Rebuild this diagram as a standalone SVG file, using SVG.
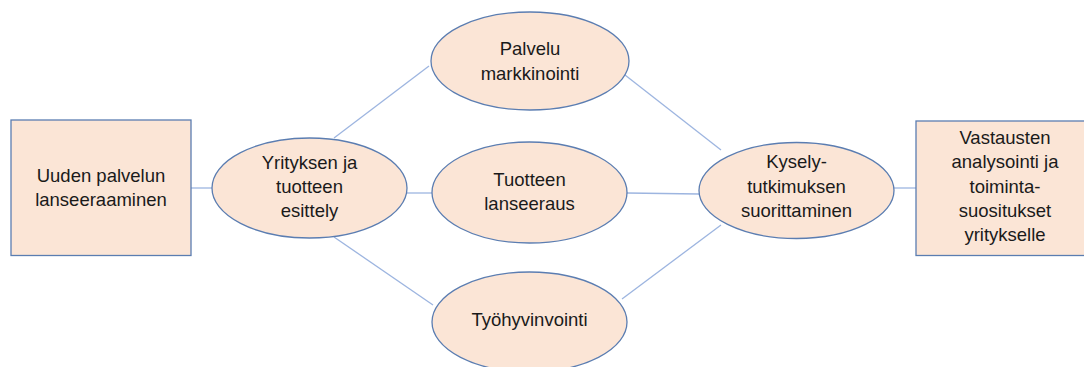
<svg xmlns="http://www.w3.org/2000/svg" width="1084" height="367" viewBox="0 0 1084 367">
<style>
.box{fill:#FBE5D6;stroke:#5B7DB1;stroke-width:1.3}
.conn{stroke:#9DB5E0;stroke-width:1.3;fill:none}
text{font-family:"Liberation Sans",Arial,sans-serif;font-size:18.5px;fill:#1a1a1a;text-anchor:middle}
</style>
<rect width="1084" height="367" fill="#ffffff"/>
<g id="connectors">
<line class="conn" x1="191" y1="188" x2="212" y2="188"/>
<line class="conn" x1="334" y1="138" x2="429" y2="66"/>
<line class="conn" x1="407" y1="193" x2="432" y2="193"/>
<line class="conn" x1="334" y1="237" x2="433" y2="305"/>
<line class="conn" x1="625" y1="75" x2="721" y2="150"/>
<line class="conn" x1="627" y1="193" x2="699" y2="194"/>
<line class="conn" x1="622" y1="299" x2="721" y2="225"/>
<line class="conn" x1="894" y1="188" x2="916" y2="188"/>
</g>
<g id="n-uuden">
<rect class="box" x="11" y="120" width="180" height="135.5"/>
<text x="101" y="182">Uuden palvelun</text>
<text x="101" y="205.5">lanseeraaminen</text>
</g>
<g id="n-yrityksen">
<ellipse class="box" cx="309.5" cy="188" rx="97.5" ry="50"/>
<text x="309.5" y="169">Yrityksen ja</text>
<text x="309.5" y="193">tuotteen</text>
<text x="309.5" y="216.5">esittely</text>
</g>
<g id="n-palvelu">
<ellipse class="box" cx="530" cy="61" rx="99" ry="49"/>
<text x="530" y="55">Palvelu</text>
<text x="530" y="80">markkinointi</text>
</g>
<g id="n-tuotteen">
<ellipse class="box" cx="529.5" cy="192.5" rx="97.5" ry="50.5"/>
<text x="529.5" y="186">Tuotteen</text>
<text x="529.5" y="210">lanseeraus</text>
</g>
<g id="n-tyohyvinvointi">
<ellipse class="box" cx="529.5" cy="322" rx="97.5" ry="50"/>
<text x="529.5" y="325.5">Työhyvinvointi</text>
</g>
<g id="n-kysely">
<ellipse class="box" cx="796.5" cy="190.5" rx="97.5" ry="48"/>
<text x="796.5" y="168">Kysely-</text>
<text x="796.5" y="192.5">tutkimuksen</text>
<text x="796.5" y="217">suorittaminen</text>
</g>
<g id="n-vastausten">
<rect class="box" x="916" y="121" width="180" height="134.5"/>
<text x="1005" y="144">Vastausten</text>
<text x="1005" y="168">analysointi ja</text>
<text x="1005" y="192.5">toiminta-</text>
<text x="1005" y="216.5">suositukset</text>
<text x="1005" y="240.5">yritykselle</text>
</g>
</svg>
